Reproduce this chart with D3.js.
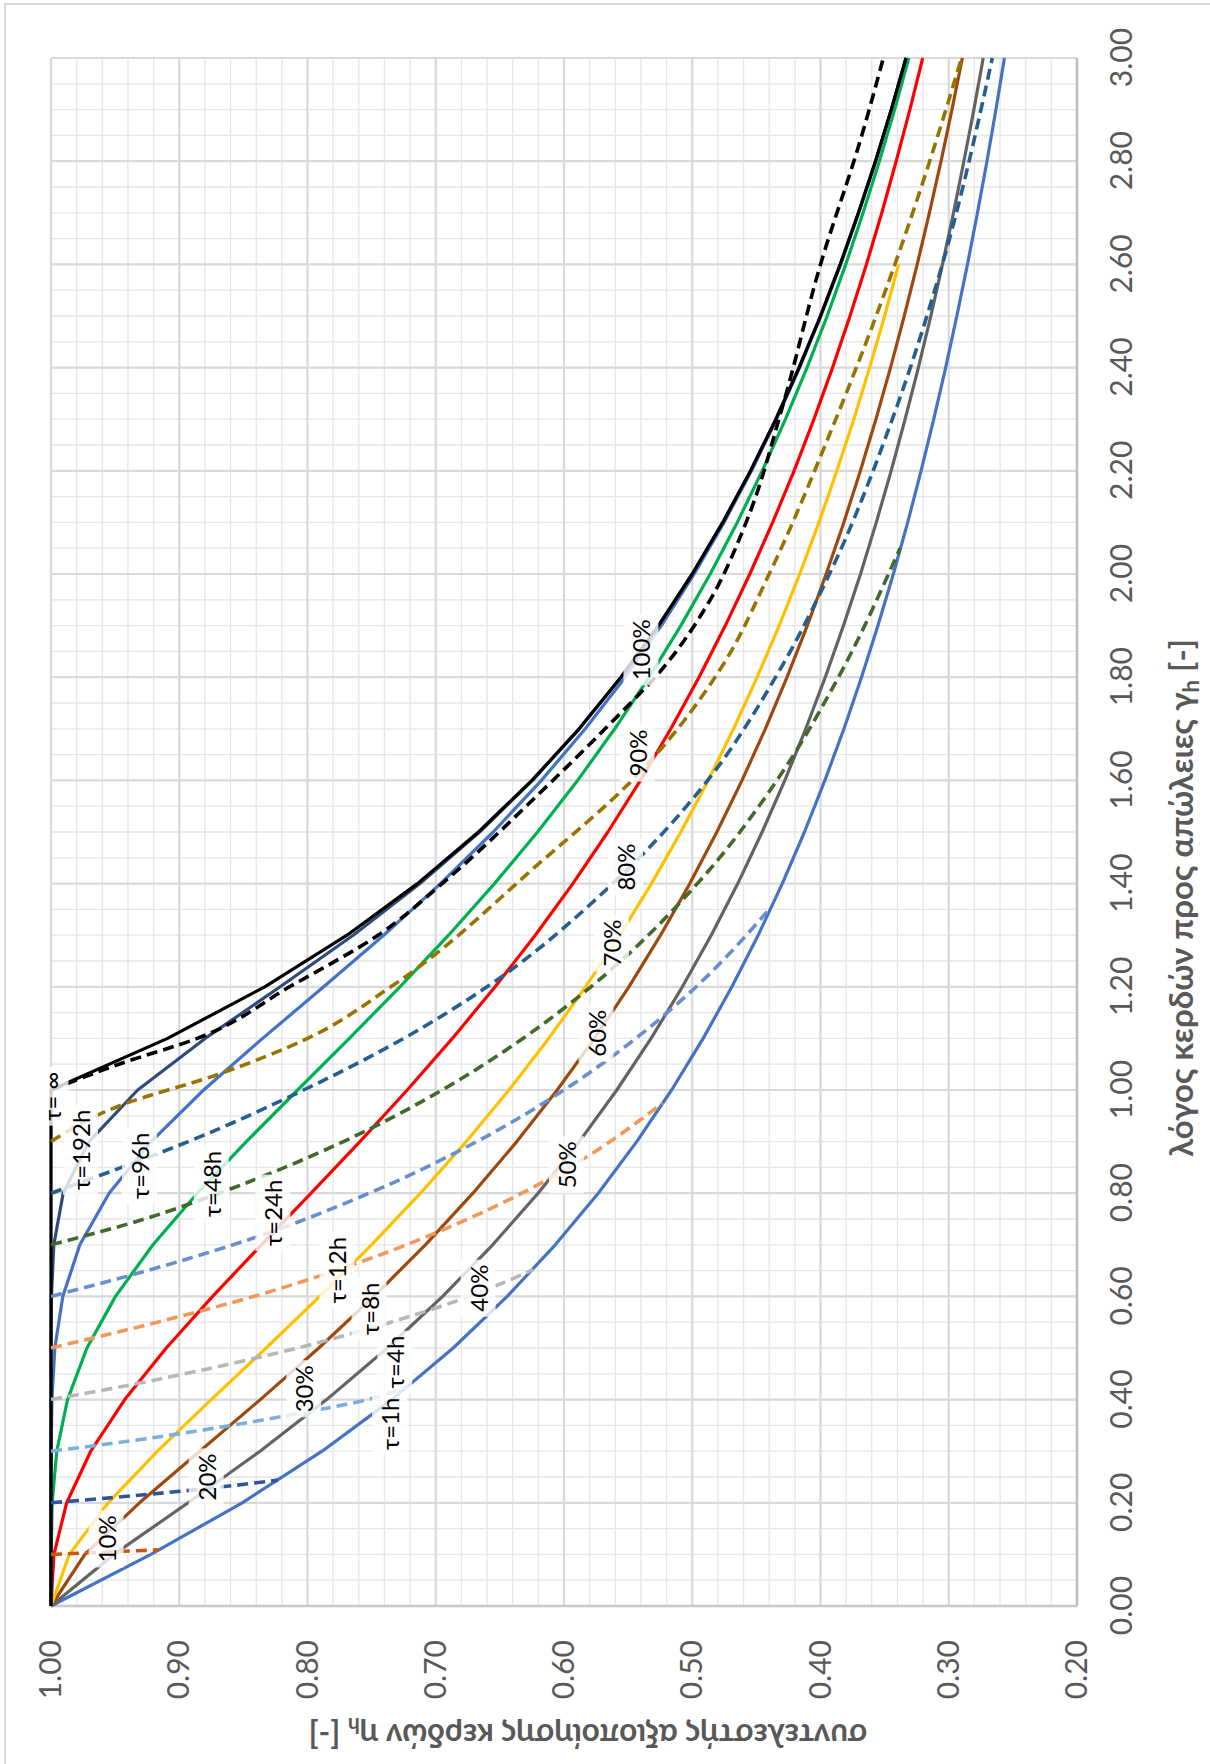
<!DOCTYPE html>
<html>
<head>
<meta charset="utf-8">
<script src="https://cdn.jsdelivr.net/npm/d3@7"></script>
<style>
  html, body { margin: 0; padding: 0; background: #fff; }
  svg { display: block; font-family: Lato, "Open Sans", sans-serif; }
</style>
</head>
<body>
<div id="chart"></div>
<script>
// gain/loss ratio steps used for the τ curves
const gammaVals = [0, 0.1, 0.2, 0.3, 0.4, 0.5, 0.6, 0.7, 0.8, 0.9, 1.0,
  1.1, 1.2, 1.3, 1.4, 1.5, 1.6, 1.7, 1.8, 1.9, 2.0,
  2.1, 2.2, 2.3, 2.4, 2.5, 2.6, 2.7, 2.8, 2.9, 3.0];

const eta1h = [1, 0.9221, 0.8509, 0.7886, 0.7342, 0.6864, 0.6443, 0.6068, 0.5733, 0.5433, 0.5161,
  0.4915, 0.4691, 0.4486, 0.4298, 0.4125, 0.3966, 0.3817, 0.3680, 0.3552, 0.3432,
  0.3320, 0.3216, 0.3117, 0.3024, 0.2937, 0.2854, 0.2776, 0.2702, 0.2632, 0.2566];
const eta4h = [1, 0.9510, 0.8931, 0.8370, 0.7851, 0.7377, 0.6946, 0.6556, 0.6202, 0.5881, 0.5588,
  0.5321, 0.5077, 0.4852, 0.4645, 0.4455, 0.4278, 0.4115, 0.3963, 0.3821, 0.3688,
  0.3565, 0.3449, 0.3340, 0.3237, 0.3140, 0.3049, 0.2963, 0.2882, 0.2804, 0.2731];
const eta8h = [1, 0.9736, 0.9310, 0.8840, 0.8368, 0.7912, 0.7482, 0.7081, 0.6710, 0.6368, 0.6053,
  0.5762, 0.5494, 0.5247, 0.5019, 0.4808, 0.4612, 0.4430, 0.4261, 0.4103, 0.3956,
  0.3818, 0.3689, 0.3568, 0.3454, 0.3347, 0.3246, 0.3151, 0.3060, 0.2975, 0.2894];
const eta12h = [1, 0.9857, 0.9554, 0.9170, 0.8751, 0.8323, 0.7904, 0.7501, 0.7119, 0.6762, 0.6429,
  0.6119, 0.5831, 0.5565, 0.5318, 0.5089, 0.4876, 0.4678, 0.4494, 0.4322, 0.4162,
  0.4012, 0.3872, 0.3740, 0.3617, 0.3500, 0.3391];
const eta24h = [1, 0.9977, 0.9878, 0.9690, 0.9425, 0.9101, 0.8740, 0.8359, 0.7972, 0.7591, 0.7222,
  0.6870, 0.6537, 0.6224, 0.5931, 0.5658, 0.5404, 0.5167, 0.4947, 0.4742, 0.4551,
  0.4373, 0.4206, 0.4051, 0.3906, 0.3770, 0.3642, 0.3522, 0.3410, 0.3303, 0.3203];
const eta48h = [1, 0.9999, 0.9991, 0.9955, 0.9871, 0.9720, 0.9497, 0.9205, 0.8859, 0.8477, 0.8077,
  0.7674, 0.7279, 0.6900, 0.6542, 0.6206, 0.5894, 0.5604, 0.5336, 0.5089, 0.4860,
  0.4649, 0.4454, 0.4273, 0.4105, 0.3948, 0.3803, 0.3668, 0.3541, 0.3422, 0.3311];
const eta96h = [1, 1, 1, 0.9999, 0.9993, 0.9970, 0.9908, 0.9775, 0.9547, 0.9219, 0.8810,
  0.8350, 0.7874, 0.7406, 0.6963, 0.6552, 0.6176, 0.5834, 0.5523, 0.5241, 0.4985,
  0.4752, 0.4538, 0.4343, 0.4163, 0.3997, 0.3844, 0.3702, 0.3570, 0.3447, 0.3333];
const eta192h = [1, 1, 1, 1, 1, 1, 0.9997, 0.9978, 0.9905, 0.9704, 0.9324,
  0.8798, 0.8213, 0.7644, 0.7123, 0.6658, 0.6246, 0.5881, 0.5555, 0.5263, 0.5000,
  0.4762, 0.4545, 0.4348, 0.4167, 0.4000, 0.3846, 0.3704, 0.3571, 0.3448, 0.3333];
const etaInf = [1, 1, 1, 1, 1, 1, 1, 1, 1, 1, 1,
  0.9091, 0.8333, 0.7692, 0.7143, 0.6667, 0.6250, 0.5882, 0.5556, 0.5263, 0.5000,
  0.4762, 0.4545, 0.4348, 0.4167, 0.4000, 0.3846, 0.3704, 0.3571, 0.3448, 0.3333];

// dashed iso-lines, [γ, η] pairs
const pct10 = [[0.1, 1.0], [0.104, 0.962], [0.1088, 0.916]];
const pct20 = [[0.2, 1.0], [0.21, 0.952], [0.22, 0.909], [0.23, 0.870], [0.244, 0.823]];
const pct30 = [[0.3, 1.0], [0.32, 0.938], [0.34, 0.884], [0.36, 0.836], [0.38, 0.792], [0.40, 0.753], [0.425, 0.722]];
const pct40 = [[0.4, 1.0], [0.43, 0.935], [0.46, 0.877], [0.50, 0.808], [0.55, 0.735], [0.60, 0.674], [0.652, 0.624]];
const pct50 = [[0.5, 1.0], [0.55, 0.917], [0.60, 0.842], [0.67, 0.755], [0.75, 0.675], [0.85, 0.596], [0.975, 0.523]];
const pct60 = [[0.6, 1.0], [0.65, 0.925], [0.70, 0.858], [0.80, 0.752], [0.90, 0.668], [1.0, 0.600], [1.1, 0.544], [1.2, 0.497], [1.35, 0.440]];
const pct70 = [[0.7, 1.0], [0.75, 0.927], [0.8, 0.869], [0.9, 0.772], [1.0, 0.695], [1.1, 0.632], [1.2, 0.579], [1.4, 0.496], [1.6, 0.434], [1.8, 0.386], [2.05, 0.338]];
const pct80 = [[0.8, 1.0], [0.85, 0.945], [0.9, 0.893], [1.0, 0.803], [1.1, 0.725], [1.2, 0.660], [1.4, 0.562], [1.6, 0.488], [1.8, 0.435], [2.0, 0.393], [2.3, 0.344], [2.6, 0.305], [3.0, 0.266]];
const pct90 = [[0.9, 1.0], [0.97, 0.946], [1.03, 0.870], [1.1, 0.800], [1.2, 0.735], [1.44, 0.619], [1.6, 0.547], [1.82, 0.477], [2.0, 0.440], [2.27, 0.393], [2.6, 0.342], [2.83, 0.311], [3.0, 0.290]];
const pct100 = [[1.0, 1.0], [1.05, 0.947], [1.1, 0.886], [1.2, 0.814], [1.3, 0.745], [1.4, 0.695], [1.58, 0.617], [1.7, 0.568], [1.82, 0.522], [1.95, 0.486], [2.1, 0.458], [2.33, 0.429], [2.6, 0.400], [2.84, 0.369], [3.0, 0.351]];

const gammaTicks = [0, 0.2, 0.4, 0.6, 0.8, 1.0, 1.2, 1.4, 1.6, 1.8, 2.0, 2.2, 2.4, 2.6, 2.8, 3.0];
const etaTicks = [0.2, 0.3, 0.4, 0.5, 0.6, 0.7, 0.8, 0.9, 1.0];

const tauLabelText = ["τ=1h", "τ=4h", "τ=8h", "τ=12h", "τ=24h", "τ=48h", "τ=96h", "τ=192h", "τ= ∞"];
const tauLabelGamma = [0.353, 0.473, 0.576, 0.651, 0.762, 0.818, 0.853, 0.884, 0.988];
const tauLabelEta = [0.736, 0.732, 0.752, 0.777, 0.827, 0.875, 0.931, 0.977, 1.0];

const pctLabelText = ["10%", "20%", "30%", "40%", "50%", "60%", "70%", "80%", "90%", "100%"];
const pctLabelGamma = [0.130, 0.250, 0.421, 0.616, 0.855, 1.110, 1.285, 1.432, 1.653, 1.853];
const pctLabelEta = [0.957, 0.879, 0.803, 0.667, 0.598, 0.575, 0.563, 0.552, 0.543, 0.540];

const solidSeries = [eta1h, eta4h, eta8h, eta12h, eta24h, eta48h, eta96h, eta192h, etaInf];
const solidColors = ["#4472C4", "#636363", "#9E480E", "#FFC000", "#FF0000", "#00B050", "#4472C4", "#2F4B7C", "#000000"];
const dashedSeries = [pct10, pct20, pct30, pct40, pct50, pct60, pct70, pct80, pct90, pct100];
const dashedColors = ["#C55A11", "#2F5597", "#7CAFDD", "#B7B7B7", "#F1975A", "#698ED0", "#43682B", "#255E91", "#997300", "#000000"];

const W = 1210, H = 1764;

const svg = d3.select("#chart").append("svg")
    .attr("width", W)
    .attr("height", H);

// the chart is laid out upright and then turned a quarter turn counter-clockwise
const g = svg.append("g")
    .attr("transform", `translate(0,${H}) rotate(-90)`);

const x = d3.scaleLinear().domain([0, 3]).range([158, 1706]);
const y = d3.scaleLinear().domain([0.2, 1.0]).range([1077, 51]);

// outer chart frame (cut off on two sides)
g.append("rect")
    .attr("x", -60).attr("y", 5)
    .attr("width", 1820).attr("height", 1400)
    .attr("fill", "none")
    .attr("stroke", "#d9d9d9")
    .attr("stroke-width", 2);

// minor grid
g.append("g").selectAll("line")
    .data(x.ticks(60))
    .join("line")
    .attr("x1", d => x(d)).attr("x2", d => x(d))
    .attr("y1", y(0.2)).attr("y2", y(1.0))
    .attr("stroke", "#e6e6e6").attr("stroke-width", 1.3);
g.append("g").selectAll("line")
    .data(y.ticks(40))
    .join("line")
    .attr("y1", d => y(d)).attr("y2", d => y(d))
    .attr("x1", x(0)).attr("x2", x(3))
    .attr("stroke", "#e6e6e6").attr("stroke-width", 1.3);

// major grid
g.append("g").selectAll("line")
    .data(gammaTicks)
    .join("line")
    .attr("x1", d => x(d)).attr("x2", d => x(d))
    .attr("y1", y(0.2)).attr("y2", y(1.0))
    .attr("stroke", "#d9d9d9").attr("stroke-width", 2.2);
g.append("g").selectAll("line")
    .data(etaTicks)
    .join("line")
    .attr("y1", d => y(d)).attr("y2", d => y(d))
    .attr("x1", x(0)).attr("x2", x(3))
    .attr("stroke", "#d9d9d9").attr("stroke-width", 2.2);

// axis lines
g.append("line")
    .attr("x1", x(0)).attr("x2", x(3)).attr("y1", y(0.2)).attr("y2", y(0.2))
    .attr("stroke", "#bfbfbf").attr("stroke-width", 2.5);
g.append("line")
    .attr("x1", x(0)).attr("x2", x(0)).attr("y1", y(0.2)).attr("y2", y(1.0))
    .attr("stroke", "#c8c8c8").attr("stroke-width", 2.5);

// tick labels
const xAxis = g.append("g")
    .attr("transform", `translate(0,${y(0.2)})`)
    .call(d3.axisBottom(x).tickValues(gammaTicks).tickFormat(d3.format(".2f")).tickSize(0).tickPadding(34));
const yAxis = g.append("g")
    .attr("transform", `translate(${x(0)},0)`)
    .call(d3.axisLeft(y).tickValues(etaTicks).tickFormat(d3.format(".2f")).tickSize(0).tickPadding(34));
[xAxis, yAxis].forEach(a => {
    a.select(".domain").remove();
    a.selectAll("text")
        .attr("font-family", "Lato, 'Open Sans', sans-serif")
        .attr("font-size", 30)
        .attr("fill", "#595959");
});

// axis titles
const xTitle = g.append("text")
    .attr("x", 866).attr("y", 1193)
    .attr("text-anchor", "middle")
    .attr("font-size", 33).attr("font-weight", "bold")
    .attr("fill", "#595959");
xTitle.append("tspan").text("λόγος κερδών προς απώλειες γ");
xTitle.append("tspan").attr("font-size", 22).attr("dy", 6).text("h");
xTitle.append("tspan").attr("dy", -6).text(" [-]");

const yTitle = g.append("text")
    .attr("transform", "translate(40,588) rotate(-90)")
    .attr("text-anchor", "middle")
    .attr("font-size", 31.5).attr("font-weight", "bold")
    .attr("fill", "#595959");
yTitle.append("tspan").text("συντελεστής αξιοποίησης κερδών η");
yTitle.append("tspan").attr("font-size", 21).attr("dy", 6).text("h");
yTitle.append("tspan").attr("dy", -6).text(" [-]");

// τ curves
const line = d3.line()
    .x(d => x(d[0]))
    .y(d => y(d[1]));

g.append("g").selectAll("path")
    .data(solidSeries)
    .join("path")
    .attr("d", vals => line(vals.map((v, i) => [gammaVals[i], v])))
    .attr("fill", "none")
    .attr("stroke", (d, i) => solidColors[i])
    .attr("stroke-width", 3.2)
    .attr("stroke-linejoin", "round");

// percentage iso-lines
const smooth = d3.line()
    .x(d => x(d[0]))
    .y(d => y(d[1]))
    .curve(d3.curveMonotoneX);

g.append("g").selectAll("path")
    .data(dashedSeries)
    .join("path")
    .attr("d", smooth)
    .attr("fill", "none")
    .attr("stroke", (d, i) => dashedColors[i])
    .attr("stroke-width", 3.6)
    .attr("stroke-dasharray", "11,6");

// data labels with translucent white boxes
function addLabels(texts, gammas, etas) {
    const lab = g.append("g").selectAll("g")
        .data(texts)
        .join("g")
        .attr("transform", (d, i) => `translate(${x(gammas[i])},${y(etas[i])})`);
    lab.append("text")
        .attr("text-anchor", "middle")
        .attr("dominant-baseline", "central")
        .attr("font-size", 24)
        .attr("fill", "#000")
        .text(d => d);
    lab.each(function() {
        const grp = d3.select(this);
        const bb = grp.select("text").node().getBBox();
        grp.insert("rect", "text")
            .attr("x", bb.x - 5).attr("y", bb.y - 3)
            .attr("width", bb.width + 10).attr("height", bb.height + 6)
            .attr("fill", "#fff").attr("fill-opacity", 0.8);
    });
}

addLabels(tauLabelText, tauLabelGamma, tauLabelEta);
addLabels(pctLabelText, pctLabelGamma, pctLabelEta);
</script>
</body>
</html>
